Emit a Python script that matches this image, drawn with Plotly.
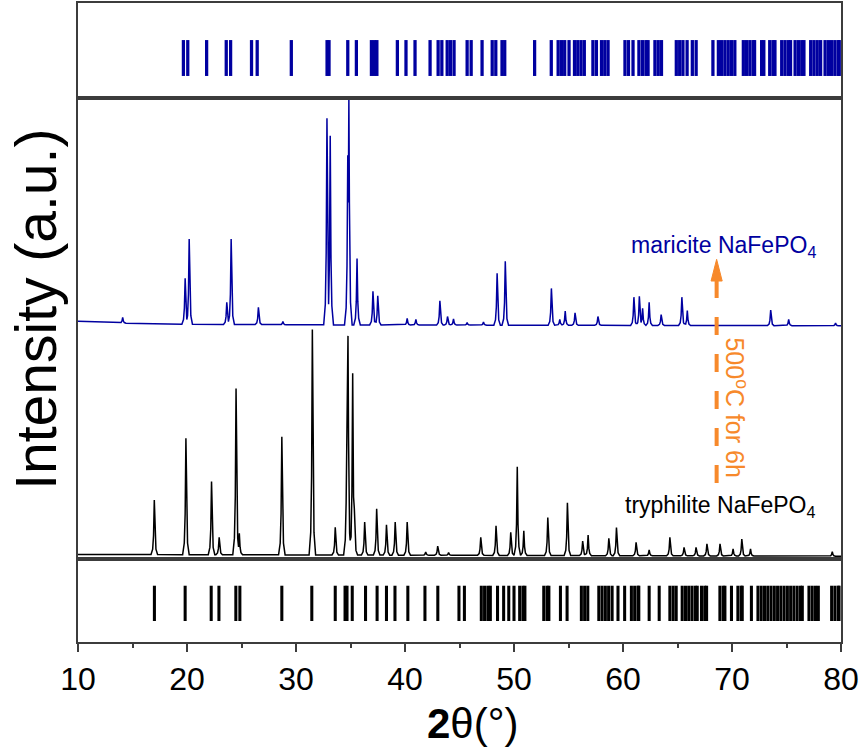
import numpy as np
import plotly.graph_objects as go

# ---------------- data ----------------
# tryphilite pattern (black): peak positions (2theta) and peak-top values (a.u., 0-100 scale)
tryph_pos = [17.0, 19.9, 22.25, 22.95, 24.5, 24.8, 28.7, 31.5, 33.6, 34.67, 34.77, 35.2, 35.35,
             36.3, 37.4, 38.3, 39.1, 40.2, 41.9, 43.0, 44.0, 46.95, 48.35, 49.7, 50.3, 50.9,
             53.1, 54.9, 56.3, 56.8, 58.7, 59.4, 61.2, 62.4, 64.3, 65.6, 66.7, 67.7, 68.9,
             70.1, 70.9, 71.7, 79.2]
tryph_top = [12.8, 26.2, 16.8, 4.7, 37.0, 5.6, 26.5, 49.8, 6.9, 33.4, 48.4, 40.3, 11.0,
             8.0, 10.9, 7.4, 8.0, 8.0, 1.5, 2.8, 1.4, 4.7, 7.2, 5.8, 20.0, 6.1,
             9.0, 12.2, 3.9, 5.2, 4.5, 6.8, 3.6, 2.0, 4.7, 2.5, 2.5, 3.3, 3.3,
             2.2, 4.3, 2.2, 1.6]
tryph_base_x = [10, 80]
tryph_base_y = [1.0, 0.6]

# maricite pattern (blue)
maric_pos = [14.1, 19.83, 20.2, 23.65, 24.05, 26.55, 28.8, 32.84, 33.14, 34.75, 34.85, 35.6,
             37.06, 37.5, 40.2, 41.0, 43.2, 43.9, 44.45, 45.7, 47.2, 48.45, 49.2, 53.43, 54.2,
             54.7, 55.6, 57.7, 61.0, 61.5, 61.8, 62.4, 63.5, 65.4, 65.9, 73.55, 75.2, 79.5]
maric_top = [52.4, 60.9, 69.4, 55.7, 69.4, 54.6, 51.5, 95.6, 91.8, 87.6, 100.0, 65.2,
             58.1, 57.1, 52.2, 52.0, 56.0, 52.6, 52.1, 51.3, 51.4, 62.0, 64.6, 58.7, 52.0,
             53.8, 53.4, 52.6, 56.8, 57.0, 54.4, 55.7, 53.0, 56.8, 53.9, 54.0, 52.0, 51.2]
maric_base_x = [10, 16, 30, 80]
maric_base_y = [51.6, 51.0, 50.8, 50.6]

# reference reflections (tick marks)
maric_ref = [19.67, 20.07, 21.8, 23.6, 24.0, 25.92, 26.44, 29.57, 32.85, 33.03, 34.75, 35.54,
             36.92, 37.2, 37.42, 39.3, 40.09, 40.92, 42.3, 43.04, 43.38, 43.87, 44.17, 44.5,
             45.7, 46.07, 47.07, 48.0, 48.33, 48.9, 49.15, 51.89, 53.42, 54.05, 54.35, 54.65,
             55.05, 55.55, 55.85, 56.15, 56.45, 57.24, 57.56, 58.03, 58.33, 58.63, 60.18, 60.5,
             60.92, 61.46, 61.78, 62.1, 62.3, 62.93, 63.23, 63.53, 64.89, 65.2, 65.5, 65.88,
             66.36, 66.71, 68.25, 68.75, 69.05, 69.35, 69.65, 69.95, 70.26, 71.04, 71.34, 71.64,
             71.94, 72.07, 72.72, 72.92, 73.46, 73.76, 73.94, 74.56, 74.86, 75.16, 75.37, 75.79,
             76.1, 76.4, 76.6, 77.22, 77.52, 77.82, 78.13, 78.54, 78.84, 79.14, 79.44, 79.74, 79.84]
tryph_ref = [17.01, 19.83, 22.22, 22.93, 24.48, 24.85, 28.7, 31.45, 33.6, 34.5, 34.68, 35.16,
             36.38, 37.44, 38.3, 39.08, 40.26, 41.83, 43.01, 44.95, 45.45, 47.0, 47.3, 47.6,
             47.83, 48.49, 49.05, 49.52, 50.0, 50.52, 50.82, 51.0, 52.73, 53.03, 53.2, 54.26,
             54.87, 56.18, 56.48, 56.77, 57.78, 58.08, 58.38, 58.68, 59.0, 59.54, 60.15, 60.77,
             61.07, 61.37, 61.45, 62.4, 63.32, 64.3, 64.6, 64.88, 65.43, 65.73, 66.03, 66.33,
             66.63, 66.81, 67.2, 67.5, 67.67, 68.89, 69.19, 69.35, 69.95, 70.54, 70.84, 70.94,
             71.78, 72.38, 72.68, 72.98, 73.28, 73.58, 73.88, 74.18, 74.48, 74.78, 75.08, 75.38,
             75.68, 75.98, 76.28, 76.45, 77.06, 77.36, 77.66, 77.92, 79.14, 79.44, 79.74, 79.82]

# ---------------- styling ----------------
BLUE = "#0000a0"
ORANGE = "#f7892b"
AXC = "#3c3c3c"
FONT = "Liberation Sans, Arial, sans-serif"

# peak profile shape (offset in degrees, fraction of height)
prof_dx = np.array([-0.3, -0.15, -0.07, 0.0, 0.07, 0.15, 0.3])
prof_fr = np.array([0.0, 0.1, 0.35, 1.0, 0.35, 0.1, 0.0])


def pattern(pos, top, bx, by):
    pos = np.asarray(pos, float)
    top = np.asarray(top, float)
    xs = np.unique(np.concatenate([[10.0, 80.0], np.concatenate([p + prof_dx for p in pos])]))
    xs = xs[(xs >= 10) & (xs <= 80)]
    base = np.interp(xs, bx, by)
    extra = np.zeros_like(xs)
    for p, t in zip(pos, top):
        h = t - np.interp(p, bx, by)
        extra = np.maximum(extra, h * np.interp(xs, p + prof_dx, prof_fr, left=0, right=0))
    return xs, base + extra


fig = go.Figure()

tx, ty = pattern(tryph_pos, tryph_top, tryph_base_x, tryph_base_y)
mx, my = pattern(maric_pos, maric_top, maric_base_x, maric_base_y)

fig.add_trace(go.Scatter(x=tx, y=ty, mode="lines", line=dict(color="black", width=1.5),
                         xaxis="x2", yaxis="y2", hoverinfo="skip"))
fig.add_trace(go.Scatter(x=mx, y=my, mode="lines", line=dict(color=BLUE, width=1.5),
                         xaxis="x2", yaxis="y2", hoverinfo="skip"))

# reference tick bars
fig.add_trace(go.Bar(x=maric_ref, y=[0.378] * len(maric_ref), base=0.232, width=0.3,
                     marker=dict(color=BLUE, line=dict(width=0)), xaxis="x3", yaxis="y3"))
fig.add_trace(go.Bar(x=tryph_ref, y=[0.425] * len(tryph_ref), base=0.253, width=0.28,
                     marker=dict(color="black", line=dict(width=0)), xaxis="x", yaxis="y"))

common_y = dict(showline=True, mirror=True, linecolor=AXC, linewidth=1.5, showticklabels=False,
                ticks="", showgrid=False, zeroline=False, fixedrange=True)
common_x = dict(range=[10, 80], showline=True, mirror=True, linecolor=AXC, linewidth=1.5,
                showgrid=False, zeroline=False)

fig.update_layout(
    width=862, height=754,
    margin=dict(l=78, r=21, t=1, b=112),
    plot_bgcolor="white", paper_bgcolor="white",
    showlegend=False, barmode="overlay",
    xaxis=dict(**common_x, anchor="y", ticks="outside", ticklen=8, tickwidth=1.5, tickcolor=AXC,
               tick0=10, dtick=10,
               minor=dict(ticks="outside", ticklen=4, tickwidth=1.5, tickcolor=AXC, dtick=5),
               tickfont=dict(family=FONT, size=32, color="black")),
    yaxis=dict(**common_y, domain=[0, 0.1299], range=[0, 1]),
    xaxis2=dict(**common_x, anchor="y2", matches="x", showticklabels=False, ticks=""),
    yaxis2=dict(**common_y, domain=[0.1299, 0.8513], range=[0, 100]),
    xaxis3=dict(**common_x, anchor="y3", matches="x", showticklabels=False, ticks=""),
    yaxis3=dict(**common_y, domain=[0.8513, 1], range=[0, 1]),
)

# arrow (dashed shaft + head)
fig.add_shape(type="line", xref="x2", yref="y2", x0=68.59, x1=68.59, y0=16.5, y1=60.5,
              line=dict(color=ORANGE, width=4, dash="18px,19px"))
fig.add_shape(type="path", xref="x2", yref="y2",
              path="M 68.08,60.3 L 69.10,60.3 L 68.59,65.0 Z",
              fillcolor=ORANGE, line=dict(color=ORANGE, width=1))

fig.add_annotation(xref="x2", yref="y2", x=77.9, y=67.7, xanchor="right", yanchor="middle",
                   text="maricite NaFePO<sub>4</sub>", showarrow=False,
                   font=dict(family=FONT, size=23, color=BLUE))
fig.add_annotation(xref="x2", yref="y2", x=77.9, y=11.3, xanchor="right", yanchor="middle",
                   text="tryphilite NaFePO<sub>4</sub>", showarrow=False,
                   font=dict(family=FONT, size=23, color="black"))
fig.add_annotation(xref="x2", yref="y2", x=70.4, y=32.8, xanchor="center", yanchor="middle",
                   text="500<sup>o</sup>C for 6h", textangle=90, showarrow=False,
                   font=dict(family=FONT, size=25, color=ORANGE))

# axis titles
fig.add_annotation(xref="paper", yref="paper", x=-0.055, y=0.52, xanchor="center", yanchor="middle",
                   text="Intensity (a.u.)", textangle=-90, showarrow=False,
                   font=dict(family=FONT, size=57, color="black"))
fig.add_annotation(xref="paper", yref="paper", x=0.518, y=-0.128, xanchor="center", yanchor="middle",
                   text="<b>2</b>θ(°)", showarrow=False,
                   font=dict(family=FONT, size=42, color="black"))

fig.write_html("out.html", config={"displayModeBar": False},
               post_script="document.body.style.margin='0px';document.body.style.overflow='hidden';")
